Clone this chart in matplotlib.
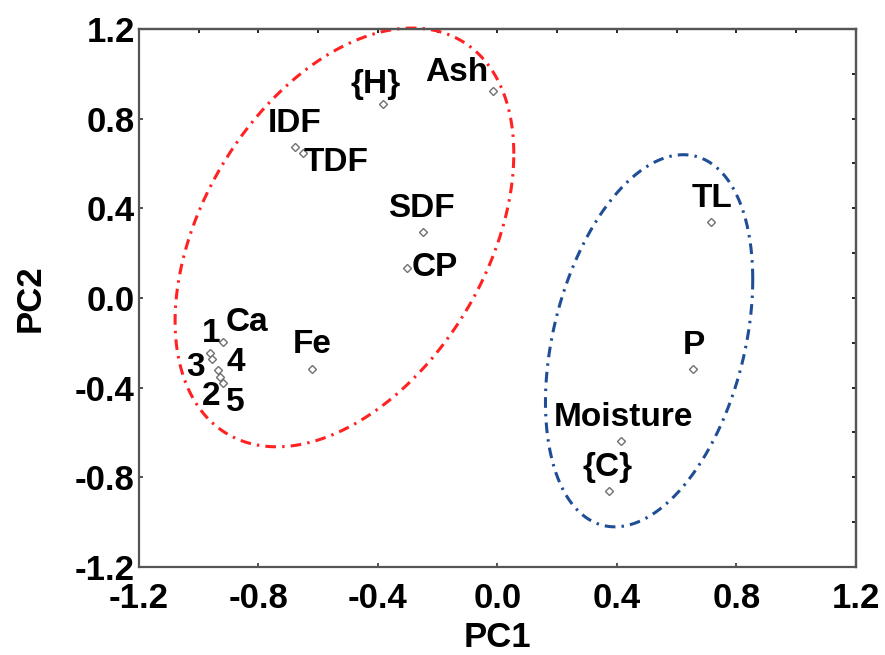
import numpy as np
import matplotlib
matplotlib.use("Agg")
import matplotlib.pyplot as plt
from matplotlib.ticker import MultipleLocator

plt.rcParams["font.family"] = ["Liberation Sans", "DejaVu Sans"]
plt.rcParams["font.weight"] = "bold"

# PCA loadings
labels = ["Ash", "{H}", "IDF", "TDF", "SDF", "CP", "Ca", "Fe",
          "1", "3", "4", "2", "5", "TL", "P", "Moisture", "{C}"]
pc1 = [-0.015, -0.383, -0.678, -0.651, -0.249, -0.303, -0.919, -0.621,
       -0.962, -0.956, -0.936, -0.929, -0.919, 0.715, 0.654, 0.413, 0.373]
pc2 = [0.923, 0.865, 0.674, 0.647, 0.295, 0.134, -0.196, -0.317,
       -0.245, -0.272, -0.321, -0.352, -0.379, 0.339, -0.317, -0.638, -0.861]

# label offsets from each point (points)
offsets = [(-26, 13), (-5, 14), (0, 17), (24, -7), (-1, 17), (20, 0),
           (17, 14), (0, 18), (1, 14), (-12, -6), (13, 5), (-6, -14),
           (9, -14), (1, 17), (1, 17), (2, 17), (-1, 17)]

# group ellipses: centre, half-extent x/y, coupling cos(delta)
red_ellipse = (-0.512, 0.270, 0.567, 0.934, 0.40)
blue_ellipse = (0.508, -0.191, 0.347, 0.830, 0.33)


def ellipse_xy(params):
    cx, cy, ax_, ay_, c = params
    d = np.arccos(c)
    t = np.linspace(0, 2 * np.pi, 400)
    return cx + ax_ * np.cos(t), cy + ay_ * np.cos(t - d)


fig = plt.figure(figsize=(8.85, 6.55), dpi=100)
ax = fig.add_axes([0.157, 0.1344, 0.810, 0.8214])

for params, color in [(red_ellipse, "#ff2222"), (blue_ellipse, "#1f4e96")]:
    ex, ey = ellipse_xy(params)
    ax.plot(ex, ey, color=color, lw=2.2, dashes=(3.5, 2.0, 0.8, 2.0),
            clip_on=False)

ax.plot(pc1, pc2, linestyle="none", marker="D", markersize=4.5,
        markerfacecolor="white", markeredgecolor="#707070",
        markeredgewidth=1.0)

for name, x, y, off in zip(labels, pc1, pc2, offsets):
    ax.annotate(name, (x, y), xytext=off, textcoords="offset points",
                ha="center", va="center", fontsize=24, fontweight="bold")

ax.set_xlim(-1.2, 1.2)
ax.set_ylim(-1.2, 1.2)
ax.xaxis.set_major_locator(MultipleLocator(0.4))
ax.yaxis.set_major_locator(MultipleLocator(0.4))
ax.xaxis.set_major_formatter(plt.FuncFormatter(lambda v, p: f"{v:.1f}"))
ax.yaxis.set_major_formatter(plt.FuncFormatter(lambda v, p: f"{v:.1f}"))
ax.tick_params(direction="in", length=3, width=1.2, color="#333333",
               labelsize=25)
ax.tick_params(axis="x", pad=11)
ax.tick_params(axis="y", pad=3)

# top/right spines carry ticks every 0.2
top = ax.secondary_xaxis("top")
top.xaxis.set_major_locator(MultipleLocator(0.2))
top.tick_params(direction="in", length=3, width=1.2, labeltop=False)
right = ax.secondary_yaxis("right")
right.yaxis.set_major_locator(MultipleLocator(0.2))
right.tick_params(direction="in", length=3, width=1.2, labelright=False)

for sp in list(ax.spines.values()) + [top.spines["top"], right.spines["right"]]:
    sp.set_color("#555555")
    sp.set_linewidth(1.6)

ax.set_xlabel("PC1", fontsize=25, fontweight="bold", labelpad=4)
ax.set_ylabel("PC2", fontsize=25, fontweight="bold", labelpad=20)

fig.savefig("out.png", dpi=100)
